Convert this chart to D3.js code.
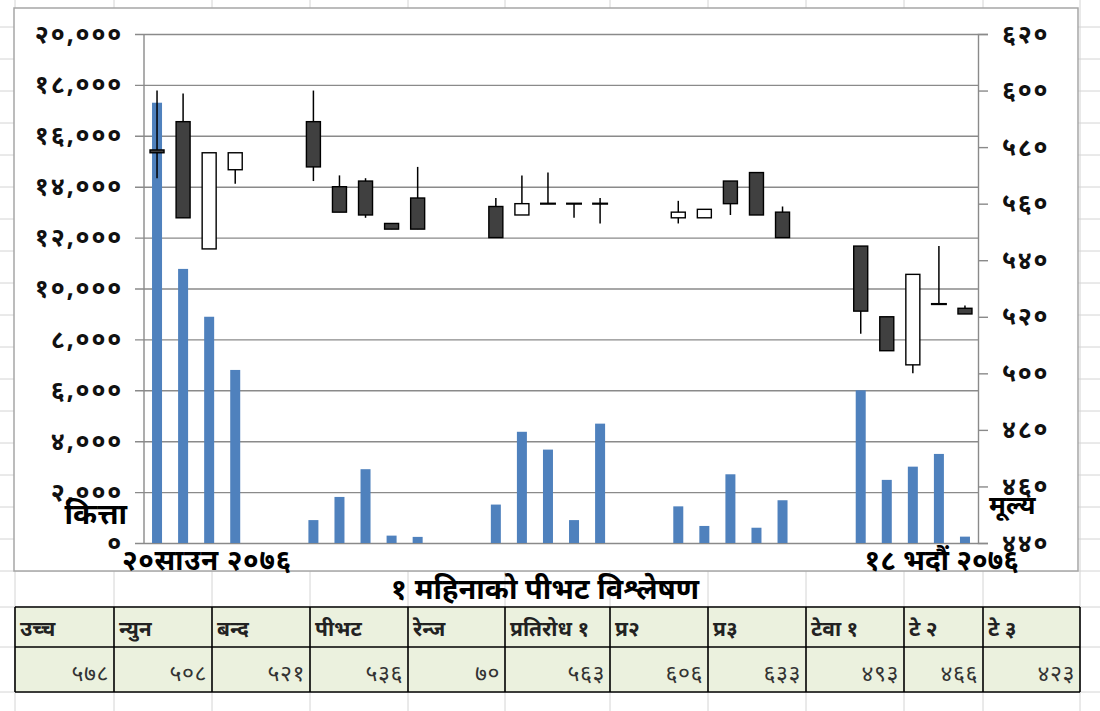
<!DOCTYPE html>
<html>
<head>
<meta charset="utf-8">
<script src="https://cdn.jsdelivr.net/npm/d3@7"></script>
<style>
  body { margin: 0; background: #fff; }
  text { font-family: "Noto Sans Devanagari", "Noto Sans", "Lohit Devanagari", sans-serif; }
</style>
</head>
<body>
<svg id="chart" width="1100" height="711"></svg>
<script>
// trading calendar, साउन २० to भदौं १९ (empty entries = no trading)
const days = [
  "साउन २०", "साउन २१", "साउन २२", "साउन २३", "साउन २४", "साउन २५", "साउन २६", "साउन २७",
  "साउन २८", "साउन २९", "साउन ३०", "साउन ३१", "साउन ३२", "भदौं १", "भदौं २", "भदौं ३",
  "भदौं ४", "भदौं ५", "भदौं ६", "भदौं ७", "भदौं ८", "भदौं ९", "भदौं १०", "भदौं ११",
  "भदौं १२", "भदौं १३", "भदौं १४", "भदौं १५", "भदौं १६", "भदौं १७", "भदौं १८", "भदौं १९"
];
const volume = [
  17300, 10770, 8890, 6800, null, null, 900, 1810,
  2900, 290, 240, null, null, 1510, 4370, 3670,
  900, 4690, null, null, 1440, 670, 2700, 600,
  1680, null, null, 6000, 2480, 3000, 3500, 250
];
const open = [
  579, 589, 544, 572, null, null, 589, 566,
  568, 553, 562, null, null, 559, 556, 560,
  560, 560, null, null, 555, 555, 568, 571,
  557, null, null, 545, 520, 503, 524.5, 523
];
const high = [
  600, 599, 578, 578, null, null, 600, 570,
  569, 553, 573, null, null, 562, 570, 571,
  560, 562, null, null, 561, 558, 568, 571,
  559, null, null, 545, 520, 535, 545, 524
];
const low = [
  569, 555, 544, 567, null, null, 568, 557,
  555, 551, 551, null, null, 548, 556, 560,
  555, 553, null, null, 553, 555, 556, 556,
  548, null, null, 514, 508, 500, 524.5, 521
];
const close = [
  578, 555, 578, 578, null, null, 573, 557,
  556, 551, 551, null, null, 548, 560, 560,
  560, 560, null, null, 557, 558, 560, 556,
  548, null, null, 522, 508, 535, 524.5, 521
];
const volumeTicks = [0, 2000, 4000, 6000, 8000, 10000, 12000, 14000, 16000, 18000, 20000];
const priceTicks = [440, 460, 480, 500, 520, 540, 560, 580, 600, 620];
const dateLabels = ["२०साउन २०७६", "१८ भदौं २०७६"];
const volumeTitle = "कित्ता";
const priceTitle = "मूल्य";

const tableTitle = "१ महिनाको पीभट विश्लेषण";
const tableHeads = ["उच्च", "न्युन", "बन्द", "पीभट", "रेन्ज", "प्रतिरोध १", "प्र२", "प्र३", "टेवा १", "टे २", "टे ३"];
const tableValues = ["५७८", "५०८", "५२१", "५३६", "७०", "५६३", "६०६", "६३३", "४९३", "४६६", "४२३"];

// spreadsheet cell grid behind everything
const sheetCols = [15, 114, 212, 310, 408, 505, 610, 708, 806, 904, 983, 1080];
const sheetRows = [27, 59, 91, 123, 155, 187, 219, 251, 283, 315, 347, 379, 411, 443, 475, 507, 539, 571, 607, 647, 692];

const devDigits = "०१२३४५६७८९";
const toDev = s => String(s).replace(/\d/g, d => devDigits[d]);

class CandleVolumeChart {

    constructor(_config, _data) {
        this.config = {
            parentElement: _config.parentElement,
            containerWidth: _config.containerWidth || 1100,
            containerHeight: _config.containerHeight || 711,
            box: _config.box,
            plot: _config.plot
        };
        this.data = _data;
        this.initVis();
    }

    initVis() {
        let vis = this;
        const p = vis.config.plot;

        vis.svg = d3.select(vis.config.parentElement)
            .attr('width', vis.config.containerWidth)
            .attr('height', vis.config.containerHeight);

        vis.xScale = d3.scaleBand()
            .domain(days)
            .range([p.left, p.right]);

        vis.yVol = d3.scaleLinear()
            .domain([0, 20000])
            .range([p.bottom, p.top]);

        vis.yPrice = d3.scaleLinear()
            .domain([440, 620])
            .range([p.bottom, p.top]);

        vis.updateVis();
    }

    updateVis() {
        let vis = this;
        vis.rows = days.map((d, i) => ({
            day: d, volume: volume[i], open: open[i], high: high[i], low: low[i], close: close[i]
        }));
        vis.bars = vis.rows.filter(d => d.volume != null);
        vis.candles = vis.rows.filter(d => d.open != null);
        vis.renderVis();
    }

    renderVis() {
        let vis = this;
        const p = vis.config.plot;
        const b = vis.config.box;
        const bw = vis.xScale.bandwidth();
        const cx = d => vis.xScale(d.day) + bw / 2;

        // sheet grid
        const grid = vis.svg.append('g').attr('stroke', '#d4d4d4').attr('stroke-width', 1);
        grid.selectAll('.col').data(sheetCols).join('line')
            .attr('x1', d => d).attr('x2', d => d).attr('y1', 0).attr('y2', vis.config.containerHeight);
        grid.selectAll('.row').data(sheetRows).join('line')
            .attr('x1', 0).attr('x2', vis.config.containerWidth).attr('y1', d => d).attr('y2', d => d);

        // chart area
        vis.svg.append('rect')
            .attr('x', b.left).attr('y', b.top)
            .attr('width', b.right - b.left).attr('height', b.bottom - b.top)
            .attr('fill', '#fff').attr('stroke', '#a6a6a6').attr('stroke-width', 1.5);

        // left axis with gridlines
        const leftAxis = vis.svg.append('g')
            .attr('transform', `translate(${p.left},0)`)
            .call(d3.axisLeft(vis.yVol)
                .tickValues(volumeTicks)
                .tickSize(-(p.right - p.left))
                .tickPadding(21)
                .tickFormat(d => toDev(d3.format(',')(d))));
        leftAxis.select('.domain').remove();
        leftAxis.selectAll('.tick line')
            .attr('x1', -9)
            .attr('stroke', '#8a8a8a').attr('stroke-width', 1.4);
        leftAxis.selectAll('.tick text')
            .attr('font-size', 25).attr('font-weight', 'bold').attr('fill', '#111')
            .attr('letter-spacing', 1.8);

        vis.svg.append('line')
            .attr('x1', p.left).attr('x2', p.left).attr('y1', p.top).attr('y2', p.bottom)
            .attr('stroke', '#8a8a8a').attr('stroke-width', 1.4);

        // right axis
        const rightAxis = vis.svg.append('g')
            .attr('transform', `translate(${p.right},0)`)
            .call(d3.axisRight(vis.yPrice)
                .tickValues(priceTicks)
                .tickSize(10)
                .tickPadding(14)
                .tickFormat(toDev));
        rightAxis.select('.domain')
            .attr('stroke', '#8a8a8a').attr('stroke-width', 1.4);
        rightAxis.selectAll('.tick line')
            .attr('stroke', '#8a8a8a').attr('stroke-width', 1.4);
        rightAxis.selectAll('.tick text')
            .attr('font-size', 25).attr('font-weight', 'bold').attr('fill', '#111')
            .attr('letter-spacing', 1.8);

        // volume bars
        vis.svg.append('g').selectAll('rect').data(vis.bars).join('rect')
            .attr('x', d => cx(d) - 5)
            .attr('width', 10)
            .attr('y', d => vis.yVol(d.volume))
            .attr('height', d => vis.yVol(0) - vis.yVol(d.volume))
            .attr('fill', '#4f81bd');

        // candlesticks
        const candle = vis.svg.append('g').selectAll('g').data(vis.candles).join('g');
        candle.append('line')
            .attr('x1', cx).attr('x2', cx)
            .attr('y1', d => vis.yPrice(d.high))
            .attr('y2', d => vis.yPrice(d.low))
            .attr('stroke', '#000').attr('stroke-width', 1.5);
        candle.filter(d => d.open !== d.close).append('rect')
            .attr('x', d => cx(d) - 7)
            .attr('width', 14)
            .attr('y', d => vis.yPrice(Math.max(d.open, d.close)))
            .attr('height', d => Math.abs(vis.yPrice(d.open) - vis.yPrice(d.close)))
            .attr('fill', d => d.close > d.open ? '#fff' : '#404040')
            .attr('stroke', '#000').attr('stroke-width', 1.4);
        candle.filter(d => d.open === d.close).append('line')
            .attr('x1', d => cx(d) - 8).attr('x2', d => cx(d) + 8)
            .attr('y1', d => vis.yPrice(d.close)).attr('y2', d => vis.yPrice(d.close))
            .attr('stroke', '#000').attr('stroke-width', 2.2);

        // text boxes
        const first = vis.rows[0], last = vis.rows[vis.rows.length - 1];
        vis.svg.append('text')
            .attr('x', cx(first) - 35).attr('y', b.bottom - 1)
            .attr('font-size', 28).attr('font-weight', 'bold').attr('letter-spacing', 0.6)
            .text(dateLabels[0]);
        vis.svg.append('text')
            .attr('x', cx(last) + 54).attr('y', b.bottom - 1)
            .attr('text-anchor', 'end')
            .attr('font-size', 28).attr('font-weight', 'bold')
            .text(dateLabels[1]);
        vis.svg.append('text')
            .attr('x', p.left - 17).attr('y', vis.yVol(0) - 19)
            .attr('text-anchor', 'end')
            .attr('font-size', 29).attr('font-weight', 'bold')
            .text(volumeTitle);
        vis.svg.append('text')
            .attr('x', p.right + 11).attr('y', vis.yVol(0) - 29)
            .attr('font-size', 26).attr('font-weight', 'bold')
            .text(priceTitle);
    }
}

function drawTable(svg) {
    const top = 607, mid = 647, bottom = 692;
    const cells = tableHeads.map((h, i) => ({ head: h, value: tableValues[i], x0: sheetCols[i], x1: sheetCols[i + 1] }));

    svg.append('text')
        .attr('x', 545).attr('y', 599)
        .attr('text-anchor', 'middle')
        .attr('font-size', 29).attr('font-weight', 'bold')
        .text(tableTitle);

    const g = svg.append('g');
    g.selectAll('rect').data(cells).join('rect')
        .attr('x', d => d.x0).attr('y', top)
        .attr('width', d => d.x1 - d.x0).attr('height', bottom - top)
        .attr('fill', '#ebf1de');
    g.append('g').attr('stroke', '#000').attr('stroke-width', 1.6)
        .selectAll('line').data(sheetCols).join('line')
        .attr('x1', d => d).attr('x2', d => d).attr('y1', top).attr('y2', bottom);
    g.append('g').attr('stroke', '#000').attr('stroke-width', 1.6)
        .selectAll('line').data([top, mid, bottom]).join('line')
        .attr('x1', sheetCols[0]).attr('x2', sheetCols[sheetCols.length - 1])
        .attr('y1', d => d).attr('y2', d => d);

    g.selectAll('.head').data(cells).join('text')
        .attr('class', 'head')
        .attr('x', d => d.x0 + 5).attr('y', 636)
        .attr('font-size', 21).attr('font-weight', 'bold').attr('fill', '#222')
        .text(d => d.head);
    g.selectAll('.val').data(cells).join('text')
        .attr('class', 'val')
        .attr('x', d => d.x1 - 5).attr('y', 681)
        .attr('text-anchor', 'end')
        .attr('font-size', 23).attr('fill', '#333').attr('letter-spacing', 0.5)
        .text(d => d.value);
}

const chart = new CandleVolumeChart({
    parentElement: '#chart',
    box: { left: 14, top: 8, right: 1078, bottom: 571 },
    plot: { left: 144, top: 34, right: 978, bottom: 543 }
}, {});
drawTable(chart.svg);
</script>
</body>
</html>
